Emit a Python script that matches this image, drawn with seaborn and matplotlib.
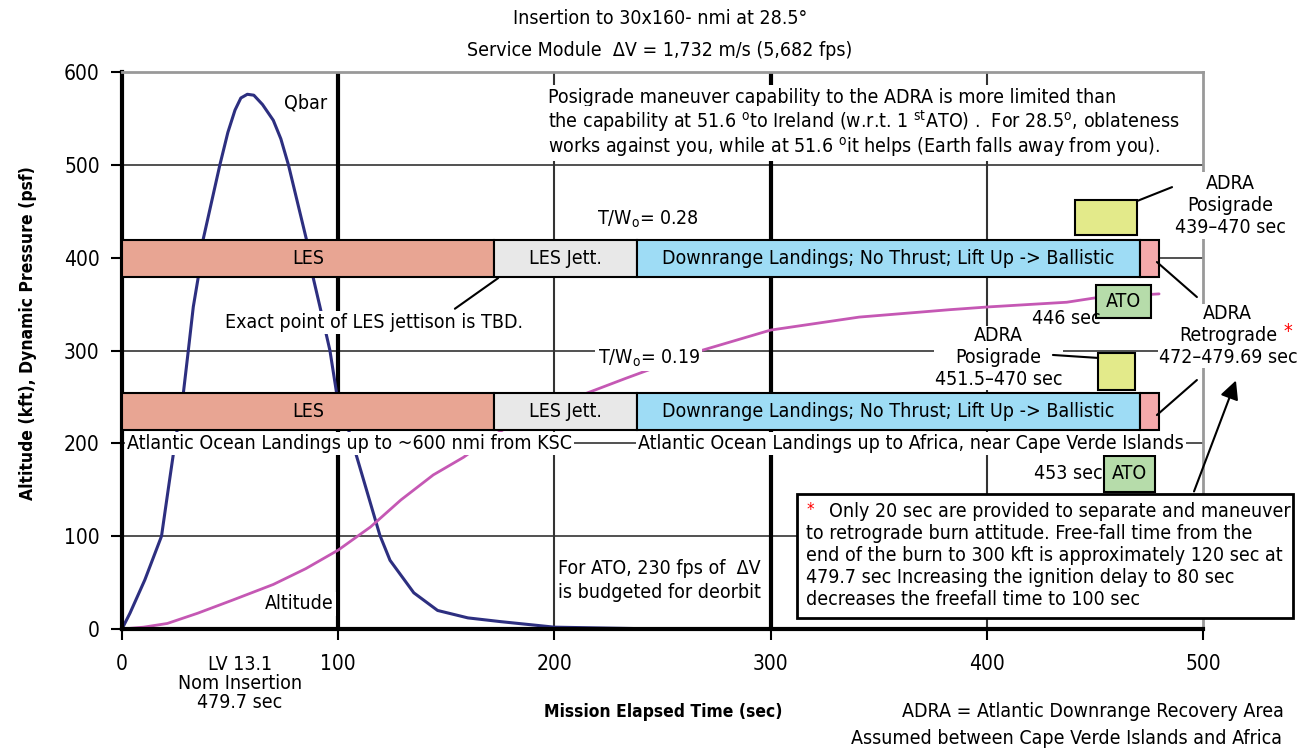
import numpy as np
import pandas as pd
import matplotlib
matplotlib.use('Agg')
import matplotlib.pyplot as plt
import seaborn as sns

# dynamic pressure (Qbar, psf)
qbar_t = [0, 3.7, 10.6, 18.3, 22, 24.5, 28.4, 30.7, 33, 35.3, 37.5, 45.3, 49, 52.3, 55, 58, 61, 65, 70, 73.5, 77,
          85.4, 88.4, 91.6, 96.2, 99.3, 106.4, 119.3, 124, 135, 146, 160, 175, 200, 250, 479.7]
qbar_v = [0, 17, 53, 100, 160, 200, 254, 300, 347, 379, 419, 500, 535, 559, 572, 576, 575, 565, 548, 528, 500,
          419, 379, 347, 300, 254, 203, 101, 74, 39, 20, 12, 8, 2, 0, 0]

# altitude (kft)
alt_t = [0, 10, 21, 35, 51, 70, 85, 100, 115, 129, 144, 158, 170, 185, 207, 233, 268, 300, 341, 383, 401, 437, 451, 479.7]
alt_v = [0, 2, 6, 17, 31, 48, 65, 85, 110, 139, 166, 185, 205, 228, 247, 270, 300, 322, 336, 344, 347, 352, 357, 361]

# abort mode bands
seg_labels = ['LES', 'LES Jett.', 'Downrange Landings; No Thrust; Lift Up -> Ballistic', '']
seg_start = [0, 172, 238, 471]
seg_end = [172, 238, 471, 479.7]
seg_colors = ['#e8a593', '#e8e8e8', '#9edcf5', '#f4a9ab']
band_y = [399, 234]        # T/W = 0.28 and T/W = 0.19
band_h = 40

# ADRA posigrade boxes (start, end, y-centre, height)
posi_start = [441, 451.5]
posi_end = [469.5, 468.5]
posi_y = [443, 277]
posi_h = [38, 40]
# ATO boxes
ato_start = [450.5, 454]
ato_end = [476, 478]
ato_y = [353, 167]
ato_h = [35, 38]

sns.set_style('white')
plt.rcParams['font.family'] = ['DejaVu Sans']
plt.rcParams['font.stretch'] = 'condensed'
plt.rcParams['mathtext.fontset'] = 'dejavusans'
plt.rcParams['text.color'] = 'black'

FS = 14

fig = plt.figure(figsize=(13.14, 7.5), dpi=100)
ax = fig.add_axes([0.0928, 0.1613, 0.8227, 0.7427])

# grid
for yv in [100, 200, 300, 400, 500]:
    ax.axhline(yv, color='#333333', lw=1.2, zorder=1)
for xv, lw in [(100, 3), (200, 1.5), (300, 3), (400, 1.5)]:
    ax.axvline(xv, color='black' if lw > 2 else '#333333', lw=lw, zorder=1)

qdf = pd.DataFrame({'t': qbar_t, 'v': qbar_v})
adf = pd.DataFrame({'t': alt_t, 'v': alt_v})
sns.lineplot(data=qdf, x='t', y='v', color='#2d2f80', lw=2.2, ax=ax, zorder=2, sort=False)
sns.lineplot(data=adf, x='t', y='v', color='#c558b4', lw=2, ax=ax, zorder=2, sort=False)

# bands
for yc in band_y:
    widths = [e - s for s, e in zip(seg_start, seg_end)]
    ax.barh([yc] * 4, widths, left=seg_start, height=band_h, color=seg_colors,
            edgecolor='black', lw=1.5, zorder=3)
    for lab, s, e in zip(seg_labels, seg_start, seg_end):
        if lab:
            ax.text((s + e) / 2, yc, lab, ha='center', va='center', fontsize=FS, zorder=5)

ax.barh(posi_y, [e - s for s, e in zip(posi_start, posi_end)], left=posi_start, height=posi_h,
        color='#e3ea8a', edgecolor='black', lw=1.5, zorder=3)
ax.barh(ato_y, [e - s for s, e in zip(ato_start, ato_end)], left=ato_start, height=ato_h,
        color='#b6dcaa', edgecolor='black', lw=1.5, zorder=3, clip_on=False)
for s, e, yc in zip(ato_start, ato_end, ato_y):
    ax.text((s + e) / 2, yc, 'ATO', ha='center', va='center', fontsize=FS, zorder=5)

wb = dict(facecolor='white', edgecolor='none', pad=1.5)

# curve labels
ax.text(85, 567, 'Qbar', ha='center', va='center', fontsize=FS, zorder=5)
ax.text(82, 27, 'Altitude', ha='center', va='center', fontsize=FS, zorder=5, bbox=wb)

# top note
note_top = ['Posigrade maneuver capability to the ADRA is more limited than',
            r'the capability at 51.6 $^{\mathrm{o}}$to Ireland (w.r.t. 1 $^{\mathrm{st}}$ATO) .  For 28.5$^{\mathrm{o}}$, oblateness',
            r'works against you, while at 51.6 $^{\mathrm{o}}$it helps (Earth falls away from you).']
for i, line in enumerate(note_top):
    ax.text(197, 567 - 27 * i, line, ha='left', va='baseline', fontsize=FS, zorder=5, bbox=wb)

ax.text(219.7, 435, r'T/W$_{\mathrm{o}}$= 0.28', ha='left', va='baseline', fontsize=FS, zorder=5)
ax.text(220, 286, r'T/W$_{\mathrm{o}}$= 0.19', ha='left', va='baseline', fontsize=FS, zorder=5, bbox=wb)

ax.text(47.6, 330, 'Exact point of LES jettison is TBD.', ha='left', va='center', fontsize=FS, zorder=5, bbox=wb)
ax.plot([154, 174], [345, 378], color='black', lw=1.5, zorder=6)

ax.text(2.3, 200, 'Atlantic Ocean Landings up to ~600 nmi from KSC', ha='left', va='center',
        fontsize=FS, zorder=5, bbox=wb)
ax.text(238.7, 200, 'Atlantic Ocean Landings up to Africa, near Cape Verde Islands', ha='left', va='center',
        fontsize=FS, zorder=5, bbox=wb)
ax.text(201.7, 52, 'For ATO, 230 fps of  ΔV\nis budgeted for deorbit', ha='left', va='center',
        fontsize=FS, zorder=5, linespacing=1.35, bbox=wb)

ax.text(437, 334, '446 sec', ha='center', va='center', fontsize=FS, zorder=6)
ax.text(437.5, 167, '453 sec', ha='center', va='center', fontsize=FS, zorder=5)

# ADRA labels
ax.text(405.5, 292, 'ADRA\nPosigrade\n451.5–470 sec', ha='center', va='center', fontsize=FS,
        linespacing=1.2, zorder=5, bbox=dict(facecolor='white', edgecolor='none', pad=0.5))
ax.plot([430.6, 451.5], [295.2, 292], color='black', lw=1.5, zorder=6)

ax.text(512.5, 456, 'ADRA\nPosigrade\n439–470 sec', ha='center', va='center', fontsize=FS,
        linespacing=1.2, zorder=5, bbox=wb)
ax.plot([469.5, 485.7], [461, 476], color='black', lw=1.5, zorder=6, clip_on=False)

ax.text(511.5, 316, 'ADRA\nRetrograde\n472–479.69 sec', ha='center', va='center', fontsize=FS,
        linespacing=1.2, zorder=5, bbox=dict(facecolor='white', edgecolor='none', pad=0.3))
ax.text(539.5, 321, '*', ha='center', va='center', fontsize=FS, color='red', zorder=6)
ax.plot([478.7, 497.2], [395.3, 357.6], color='black', lw=1.5, zorder=6, clip_on=False)
ax.plot([478.7, 497.2], [230.5, 268.2], color='black', lw=1.5, zorder=6, clip_on=False)

# footnote box
rect = plt.Rectangle((312, 11.8), 229.6, 133.6, facecolor='white', edgecolor='black', lw=2,
                     zorder=7, clip_on=False)
ax.add_patch(rect)
ax.text(316.4, 128, '*', ha='left', va='center', fontsize=12, color='red', zorder=8)
note_lines = ['Only 20 sec are provided to separate and maneuver',
              'to retrograde burn attitude. Free-fall time from the',
              'end of the burn to 300 kft is approximately 120 sec at',
              '479.7 sec Increasing the ignition delay to 80 sec',
              'decreases the freefall time to 100 sec']
for i, line in enumerate(note_lines):
    ax.text(327 if i == 0 else 316.4, 127 - 23.7 * i, line, ha='left', va='center', fontsize=FS, zorder=8)
ax.annotate('', xy=(515.7, 270.5), xytext=(495.4, 145.4),
            arrowprops=dict(arrowstyle='-|>', color='black', lw=1.5, mutation_scale=28),
            annotation_clip=False, zorder=8)

# axes styling
ax.set_xlim(0, 500)
ax.set_ylim(0, 600)
ax.set_xticks([0, 100, 200, 300, 400, 500])
ax.set_yticks([0, 100, 200, 300, 400, 500, 600])
ax.tick_params(axis='both', direction='out', length=8, width=1.5, labelsize=15, bottom=True, left=True,
               labelcolor='black', color='black')
ax.tick_params(axis='x', pad=10)
ax.tick_params(axis='y', pad=8)
ax.set_xlabel('')
ax.set_ylabel('')
for side in ['left', 'bottom']:
    ax.spines[side].set_color('black')
    ax.spines[side].set_linewidth(3)
for side in ['top', 'right']:
    ax.spines[side].set_color('#999999')
    ax.spines[side].set_linewidth(2)

# figure level text
fig.text(0.502, 0.976, 'Insertion to 30x160- nmi at 28.5°', ha='center', va='center', fontsize=FS)
fig.text(0.502, 0.933, 'Service Module  ΔV = 1,732 m/s (5,682 fps)', ha='center', va='center', fontsize=FS)
fig.text(0.0213, 0.556, 'Altitude (kft), Dynamic Pressure (psf)', rotation=90, ha='center', va='center',
         fontsize=12.5, fontweight='bold')
fig.text(0.1826, 0.0893, 'LV 13.1\nNom Insertion\n479.7 sec', ha='center', va='center', fontsize=FS,
         linespacing=1.0)
fig.text(0.5046, 0.0507, 'Mission Elapsed Time (sec)', ha='center', va='center', fontsize=12.5, fontweight='bold')
fig.text(0.977, 0.0507, 'ADRA = Atlantic Downrange Recovery Area', ha='right', va='center', fontsize=FS)
fig.text(0.976, 0.016, 'Assumed between Cape Verde Islands and Africa', ha='right', va='center', fontsize=FS)

fig.savefig('out.png', dpi=100)
